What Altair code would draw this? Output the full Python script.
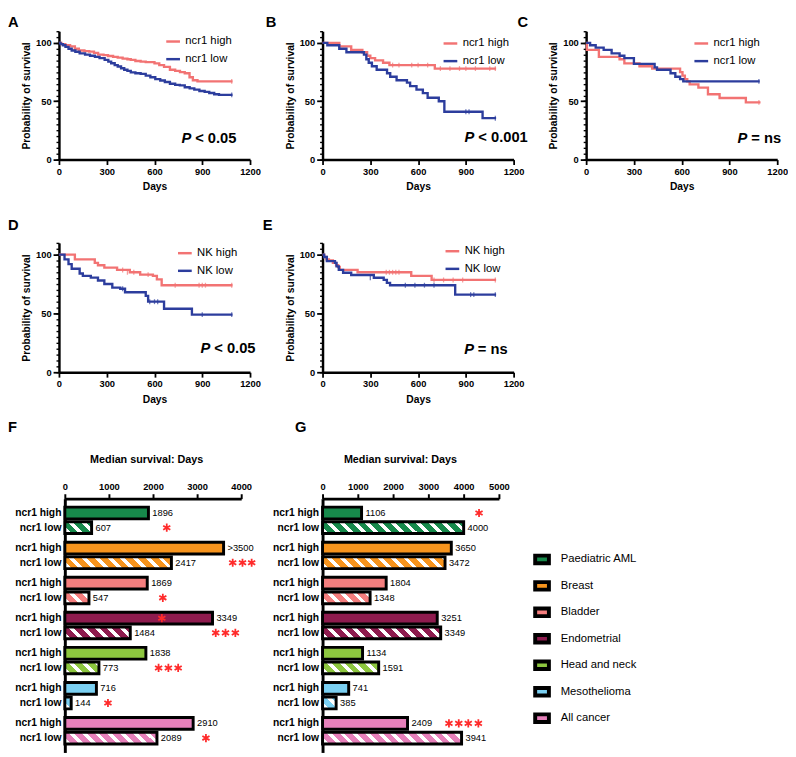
import altair as alt
import pandas as pd

FONT = "Liberation Sans"
RED = "#F27373"
BLUE = "#2C3D9D"
STAR_RED = "#FF2B2B"
STAR_PATH = "M0,-1L0,1M-0.87,-0.5L0.87,0.5M-0.87,0.5L0.87,-0.5"

# ---------------- Kaplan-Meier data (days, % survival) ----------------
A_HIGH = [(0, 100), (15, 99), (40, 98), (70, 97), (100, 95), (125, 93.5), (160, 93), (190, 92.5),
          (220, 91.5), (246, 90), (280, 89.5), (308, 88.8), (340, 88), (369, 87.4), (400, 86.5),
          (430, 86), (451, 85.4), (480, 84.5), (513, 84), (545, 83.5), (600, 82.5), (630, 81),
          (660, 79.5), (697, 77), (730, 76), (760, 75), (790, 74), (820, 70.6), (841, 68),
          (870, 67), (1090, 67)]
A_LOW = [(0, 100), (10, 99), (25, 98), (41, 96.6), (60, 95), (80, 93.5), (103, 92.4), (130, 91),
         (164, 90), (195, 89), (226, 88), (255, 87), (287, 85.4), (310, 84), (328, 82.6), (350, 81),
         (369, 79.8), (390, 78.3), (410, 77), (430, 76), (451, 74.8), (480, 74), (513, 73.4),
         (545, 72), (574, 70.6), (605, 69), (636, 67.8), (665, 66.5), (697, 65), (730, 64),
         (759, 63.6), (790, 62), (821, 61), (850, 60), (882, 58.8), (915, 58), (944, 57.1),
         (975, 56), (1005, 55.5), (1090, 55.5)]
A_HIGH_CENS = [(1085, 67)]
A_LOW_CENS = [(1085, 55.5)]

B_HIGH = [(0, 100), (105, 97), (180, 94), (250, 92), (280, 89), (300, 87), (330, 85), (380, 83),
          (420, 81), (705, 78), (1090, 78)]
B_LOW = [(0, 100), (30, 98), (105, 95), (150, 92), (260, 90), (275, 86), (290, 83), (310, 80),
         (340, 77), (405, 74), (425, 71), (465, 68), (530, 66), (550, 63), (590, 60), (630, 57),
         (660, 53), (730, 50), (765, 41), (1005, 35.5), (1090, 35.5)]
B_HIGH_CENS = [(440, 81), (480, 81), (560, 81), (600, 81), (660, 81), (740, 78), (800, 78),
               (860, 78), (900, 78), (960, 78), (1050, 78), (1085, 78)]
B_LOW_CENS = [(900, 41), (920, 41), (1085, 35.5)]

C_HIGH = [(0, 100), (5, 94), (80, 88), (210, 86), (240, 82.5), (335, 80), (415, 78), (590, 75),
          (605, 72), (620, 69), (635, 67), (650, 64.5), (705, 61.7), (765, 56), (838, 52.8),
          (1003, 49), (1095, 49)]
C_LOW = [(0, 100), (25, 98), (60, 96), (110, 94), (160, 91), (210, 89), (240, 87), (300, 82),
         (430, 79), (445, 77), (530, 74), (560, 71), (590, 69), (610, 67), (1090, 67)]
C_HIGH_CENS = [(1085, 49)]
C_LOW_CENS = [(1085, 67)]

D_HIGH = [(0, 100), (100, 96), (225, 93), (245, 91), (285, 89), (365, 87), (445, 85), (510, 83),
          (590, 82), (615, 79), (645, 74), (1090, 74)]
D_LOW = [(0, 100), (35, 96), (60, 92), (80, 88), (130, 84), (150, 82), (200, 80.5), (245, 78),
         (285, 75), (335, 72), (385, 71), (415, 68), (545, 65), (560, 60), (660, 54), (835, 49),
         (1090, 49)]
D_HIGH_CENS = [(400, 87), (430, 85), (470, 85), (560, 83), (730, 74), (880, 74), (900, 74),
               (920, 74), (1085, 74)]
D_LOW_CENS = [(400, 71), (570, 60), (600, 60), (620, 60), (900, 49), (1085, 49)]

E_HIGH = [(0, 100), (10, 98), (25, 96), (40, 95), (65, 93), (85, 91), (98, 89.5), (108, 87),
          (220, 85), (557, 82), (685, 78.5), (1090, 78.5)]
E_LOW = [(0, 100), (10, 98), (27, 94.5), (78, 93), (88, 90), (102, 87), (129, 84.6), (180, 82.7),
         (322, 80.4), (384, 78.5), (404, 76), (424, 74), (833, 66), (1090, 66)]
E_HIGH_CENS = [(400, 85), (420, 85), (440, 85), (460, 85), (480, 85), (700, 78.5), (760, 78.5),
               (820, 78.5), (880, 78.5), (1085, 78.5)]
E_LOW_CENS = [(300, 80.4), (520, 74), (580, 74), (640, 74), (700, 74), (930, 66), (950, 66),
              (1085, 66)]

NCR1_LABELS = ["ncr1 high", "ncr1 low"]
NK_LABELS = ["NK high", "NK low"]

# ---------------- Median survival data ----------------
CANCERS = ["Paediatric AML", "Breast", "Bladder", "Endometrial", "Head and neck",
           "Mesothelioma", "All cancer"]
CANCER_COLORS = ["#17894B", "#F7941D", "#F47E7E", "#8E1B4E", "#8DC63F", "#7BD0F2", "#E680BA"]

F_HIGH = [1896, 3600, 1869, 3349, 1838, 716, 2910]
F_HIGH_LBL = ["1896", ">3500", "1869", "3349", "1838", "716", "2910"]
F_LOW = [607, 2417, 547, 1484, 773, 144, 2089]
F_LOW_LBL = ["607", "2417", "547", "1484", "773", "144", "2089"]
F_STAR_CANCER = ["Paediatric AML", "Breast", "Breast", "Breast", "Bladder", "Endometrial",
                 "Endometrial", "Endometrial", "Endometrial", "Head and neck", "Head and neck",
                 "Head and neck", "Mesothelioma", "All cancer"]
F_STAR_LEVEL = ["low", "low", "low", "low", "low", "high", "low", "low", "low", "low", "low",
                "low", "low", "low"]
F_STAR_X = [2311, 3807, 4029, 4237, 2222, 2200, 3422, 3644, 3867, 2126, 2348, 2570, 978, 3200]

G_HIGH = [1106, 3650, 1804, 3251, 1134, 741, 2409]
G_HIGH_LBL = ["1106", "3650", "1804", "3251", "1134", "741", "2409"]
G_LOW = [4000, 3472, 1348, 3349, 1591, 385, 3941]
G_LOW_LBL = ["4000", "3472", "1348", "3349", "1591", "385", "3941"]
G_STAR_CANCER = ["Paediatric AML", "All cancer", "All cancer", "All cancer", "All cancer"]
G_STAR_LEVEL = ["high", "high", "high", "high", "high"]
G_STAR_X = [4436, 3583, 3861, 4131, 4417]


def km_panel(letter, lt, ls, high, low, high_c, low_c, labels, ptext, pt, ps, lx, ly, h):
    lines = pd.DataFrame([{"t": t, "s": s, "grp": labels[0]} for t, s in high] +
                         [{"t": t, "s": s, "grp": labels[1]} for t, s in low])
    cens = pd.DataFrame([{"t": t, "s": s, "grp": labels[0]} for t, s in high_c] +
                        [{"t": t, "s": s, "grp": labels[1]} for t, s in low_c])
    cscale = alt.Scale(domain=labels, range=[RED, BLUE])
    xs = alt.Scale(domain=[0, 1200], nice=False)
    ys = alt.Scale(domain=[0, 110], nice=False)
    x_axis = alt.Axis(values=[0, 300, 600, 900, 1200], format="d", title="Days", grid=False,
                      domainWidth=2.5, tickWidth=1.8, tickSize=5, labelFontSize=9.5,
                      labelFontWeight="bold", labelPadding=2, titleFontSize=10.5,
                      titleFontWeight="bold", titlePadding=6, labelFlush=False,
                      labelOverlap=False)
    y_major = alt.Axis(orient="left", values=[0, 50, 100], format="d",
                       title="Probability of survival", grid=False, domainWidth=2.5,
                       tickWidth=1.8, tickSize=6, labelFontSize=9.5, labelFontWeight="bold",
                       labelPadding=2, titleFontSize=10.5, titleFontWeight="bold",
                       titlePadding=4, labelOverlap=False)
    y_minor = alt.Axis(orient="left", values=list(range(0, 111, 5)), labels=False, domain=False,
                       title=None, grid=False, tickSize=3, tickWidth=1.4)
    line = alt.Chart(lines).mark_line(interpolate="step-after", strokeWidth=2.4).encode(
        x=alt.X("t:Q", scale=xs, axis=x_axis),
        y=alt.Y("s:Q", scale=ys, axis=y_major),
        color=alt.Color("grp:N", scale=cscale, legend=alt.Legend(
            orient="none", legendX=lx, legendY=ly, title=None, symbolType="stroke",
            symbolStrokeWidth=2.5, symbolSize=196, labelFont=FONT, labelFontSize=11.5,
            labelColor="black", rowPadding=4, labelOffset=4)),
    )
    ticks = alt.Chart(cens).mark_tick(orient="vertical", size=5, thickness=1.3).encode(
        x=alt.X("t:Q", axis=x_axis), y=alt.Y("s:Q", axis=None),
        color=alt.Color("grp:N", scale=cscale, legend=None),
    )
    pdf = pd.DataFrame({"t": [pt], "s": [ps], "p": ["P"], "rest": [ptext]})
    p1 = alt.Chart(pdf).mark_text(align="right", baseline="middle", dx=-2, font=FONT,
                                  fontSize=15, fontWeight="bold", fontStyle="italic",
                                  color="black").encode(
        x=alt.X("t:Q", axis=x_axis), y=alt.Y("s:Q", axis=y_minor), text="p:N")
    p2 = alt.Chart(pdf).mark_text(align="left", baseline="middle", dx=2, font=FONT,
                                  fontSize=15, fontWeight="bold",
                                  color="black").encode(
        x=alt.X("t:Q", axis=x_axis), y=alt.Y("s:Q", axis=None), text="rest:N")
    ldf = pd.DataFrame({"t": [lt], "s": [ls], "txt": [letter]})
    let = alt.Chart(ldf).mark_text(align="left", baseline="top", font=FONT, fontSize=15,
                                   fontWeight="bold", color="black").encode(
        x=alt.X("t:Q", axis=x_axis), y=alt.Y("s:Q", axis=None), text="txt:N")
    return alt.layer(line, ticks, p1, p2, let).resolve_axis(y="independent").properties(
        width=195, height=h)


def stripes(color, W, h=12.0, period=13.0, white=5.0, phase=2.0):
    L = W + h
    stops = [{"offset": 0, "color": color}]
    pos = phase
    while pos < L:
        a = round(pos / L, 4)
        b = round(min((pos + white) / L, 1.0), 4)
        stops += [{"offset": a, "color": color}, {"offset": a, "color": "white"},
                  {"offset": b, "color": "white"}, {"offset": b, "color": color}]
        pos += period
    stops.append({"offset": 1, "color": color})
    alpha = L / (W * W + h * h)
    return {"gradient": "linear", "x1": 0, "y1": 1, "x2": round(alpha * W, 5),
            "y2": round(1 - alpha * h, 5), "stops": stops}


def bar_panel(letter, ldx, loff, high, high_lbl, low, low_lbl, xmax, xvals, xrange, yoff,
              s_cancer, s_level, s_x, title_x, show_legend):
    rows = []
    for c, hv, hl, lv, ll in zip(CANCERS, high, high_lbl, low, low_lbl):
        rows.append({"cancer": c, "level": "high", "value": hv, "vlabel": hl, "ylab": "ncr1 high"})
        rows.append({"cancer": c, "level": "low", "value": lv, "vlabel": ll, "ylab": "ncr1 low"})
    df = pd.DataFrame(rows)
    stars = pd.DataFrame({"cancer": s_cancer, "level": s_level, "value": s_x})
    ppu = (xrange[1] - xrange[0]) / xmax

    xs = alt.Scale(domain=[0, xmax], range=xrange, nice=False)
    ys = alt.Scale(domain=CANCERS, paddingInner=0.162, paddingOuter=0.2)
    yo = alt.Scale(domain=["high", "low"], paddingInner=0.2, paddingOuter=0.1)
    x_axis = alt.Axis(orient="top", values=xvals, tickCount=len(xvals), format="d",
                      title="Median survival: Days",
                      grid=False, titleFontSize=11, titleFontWeight="bold", titlePadding=18,
                      titleX=title_x, labelFontSize=9.5, labelFontWeight="bold",
                      labelPadding=2, tickSize=5, tickWidth=2, domainWidth=3,
                      labelFlush=False, labelOverlap=False)
    y_axis = alt.Axis(title=None, labels=False, ticks=False, domainWidth=3, offset=yoff,
                      grid=False)

    legend = None
    if show_legend:
        legend = alt.Legend(orient="none", legendX=215, legendY=53, title=None,
                            symbolType="M-1,-0.55H1V0.55H-1Z", symbolSize=196,
                            symbolStrokeColor="black", symbolStrokeWidth=4,
                            labelFont=FONT, labelFontSize=11.5, labelColor="black",
                            rowPadding=3, labelOffset=10)

    X = alt.X("value:Q", scale=xs, axis=x_axis)
    Y = alt.Y("cancer:N", scale=ys, axis=y_axis)
    YO = alt.YOffset("level:N", scale=yo)

    hi = alt.Chart(df).transform_filter("datum.level === 'high'").mark_bar(
        stroke="black", strokeWidth=3, strokeJoin="miter").encode(
        x=X, y=Y, yOffset=YO,
        fill=alt.Fill("cancer:N", scale=alt.Scale(domain=CANCERS, range=CANCER_COLORS),
                      legend=legend),
    )
    conds = [{"test": "datum.cancer === '%s'" % c,
              "value": stripes(col, v * ppu)}
             for c, col, v in zip(CANCERS, CANCER_COLORS, low)]
    lo = alt.Chart(df).transform_filter("datum.level === 'low'").mark_bar(
        stroke="black", strokeWidth=3, strokeJoin="miter").encode(
        x=X, y=Y, yOffset=YO,
        fill={"condition": conds, "value": "black"},
    )
    ylab = alt.Chart(df).transform_calculate(value="0").mark_text(
        align="right", baseline="middle", dx=-3.5, font=FONT, fontSize=10.5,
        fontWeight="bold", color="black").encode(x=X, y=Y, yOffset=YO, text="ylab:N")
    vlab = alt.Chart(df).mark_text(
        align="left", baseline="middle", dx=4, font=FONT, fontSize=9.5,
        color="black").encode(x=X, y=Y, yOffset=YO, text="vlabel:N")
    st = alt.Chart(stars).mark_point(shape=STAR_PATH, filled=False, stroke=STAR_RED,
                                     strokeWidth=1.8, size=70, opacity=1).encode(
        x=X, y=Y, yOffset=YO)
    return alt.layer(hi, lo, ylab, vlab, st).properties(
        width=195, height=259,
        title=alt.TitleParams(text=letter, anchor="start", frame="group", dx=ldx, offset=loff,
                              font=FONT, fontSize=15, fontWeight="bold", baseline="bottom",
                              color="black"))


A = km_panel("A", -320, 123.4, A_HIGH, A_LOW, A_HIGH_CENS, A_LOW_CENS, NCR1_LABELS,
             "< 0.05", 843, 18.5, 108, 2, 131)
B = km_panel("B", -357, 123.4, B_HIGH, B_LOW, B_HIGH_CENS, B_LOW_CENS, NCR1_LABELS,
             "< 0.001", 966, 19.3, 122, 4, 131)
C = km_panel("C", -431, 123.4, C_HIGH, C_LOW, C_HIGH_CENS, C_LOW_CENS, NCR1_LABELS,
             "= ns", 1025, 18.5, 109, 4, 131)
D = km_panel("D", -320, 130.8, D_HIGH, D_LOW, D_HIGH_CENS, D_LOW_CENS, NK_LABELS,
             "< 0.05", 963, 20.8, 120, 2, 132)
E = km_panel("E", -375, 130.8, E_HIGH, E_LOW, E_HIGH_CENS, E_LOW_CENS, NK_LABELS,
             "= ns", 963, 20, 124, 0, 132)

placeholder = alt.Chart(pd.DataFrame({"v": [0]})).mark_point(opacity=0).encode(
    x=alt.X("v:Q", axis=None), y=alt.Y("v:Q", axis=None)).properties(width=195, height=176)

F = bar_panel("F", -52, 4, F_HIGH, F_HIGH_LBL, F_LOW, F_LOW_LBL, 4000,
              [0, 1000, 2000, 3000, 4000], [6, 186], -6,
              F_STAR_CANCER, F_STAR_LEVEL, F_STAR_X, 89, False)
G = bar_panel("G", -28, 4, G_HIGH, G_HIGH_LBL, G_LOW, G_LOW_LBL, 5000,
              [0, 1000, 2000, 3000, 4000, 5000], [0, 180], 0,
              G_STAR_CANCER, G_STAR_LEVEL, G_STAR_X, 79, True)

chart = alt.concat(A, B, C, D, E, placeholder, F, G, columns=3,
                   spacing={"row": 85, "column": 74}, bounds="flush").resolve_scale(
    color="independent", fill="independent"
).properties(
    padding=0
).configure_view(stroke=None).configure_axis(
    labelFont=FONT, titleFont=FONT, domainColor="black", tickColor="black",
    labelColor="black", titleColor="black"
)

chart.save("out.html", embed_options={"renderer": "svg", "actions": False})
